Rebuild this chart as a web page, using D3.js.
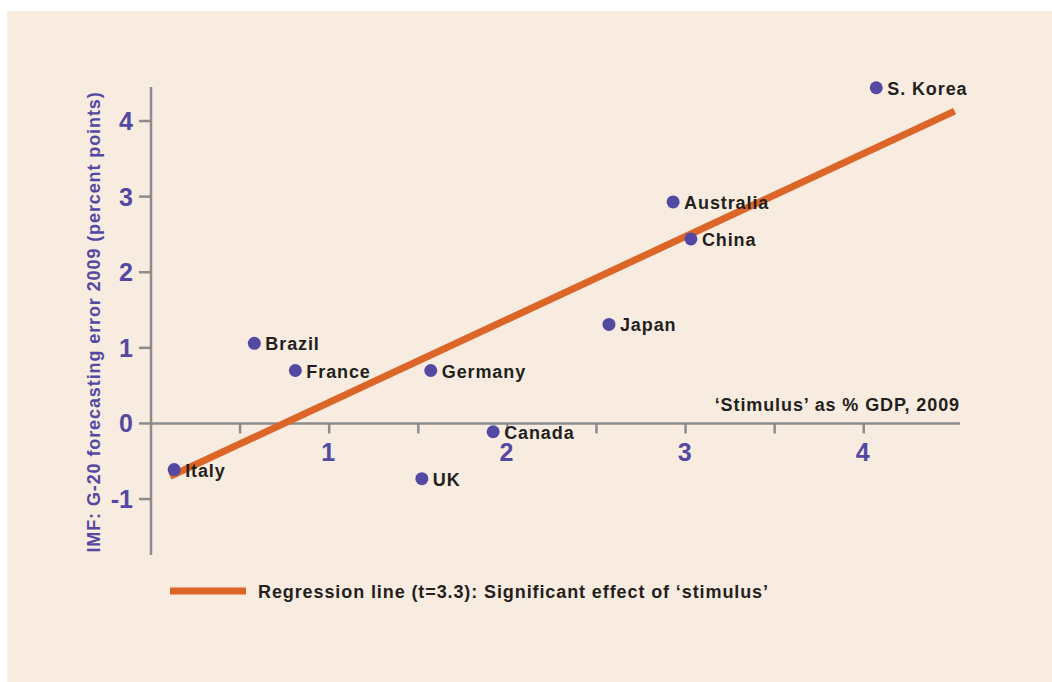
<!DOCTYPE html>
<html>
<head>
<meta charset="utf-8">
<script src="https://cdn.jsdelivr.net/npm/d3@7"></script>
<style>
  html,body{margin:0;padding:0;background:#fff;}
  text{font-family:"Liberation Sans",Arial,sans-serif;}
</style>
</head>
<body>
<div id="main"></div>
<script>
/* Define Size */
const width=1052,height=682;

/* Define Data */
const countries = ["Italy","Brazil","France","Germany","UK","Canada","Japan","Australia","China","S. Korea"];
const stimulus  = [0.13, 0.58, 0.81, 1.57, 1.52, 1.92, 2.57, 2.93, 3.03, 4.07];
const fcError   = [-0.61, 1.06, 0.70, 0.70, -0.73, -0.11, 1.31, 2.93, 2.44, 4.44];
const xTicks = [1,2,3,4];
const yTicks = [-1,0,1,2,3,4];
const regX = [0.107, 4.51];
const regY = [-0.70, 4.13];

const dataset = countries.map((c,i)=>({name:c,x:stimulus[i],y:fcError[i]}));

const purple="#5349a3", orange="#dc6528", grey="#8c8c8c", ink="#231f20";

/* Build svg */
const svg = d3.select("#main").append('svg').attr("width",width).attr("height",height);

svg.append('rect')
  .attr('x',7).attr('y',11)
  .attr('width',width-7).attr('height',height-11)
  .attr('fill','#f8ebdf');

/* Scales */
const x = d3.scaleLinear().domain([0,4.54]).range([151,960]);
const y = d3.scaleLinear().domain([-1.74,4.45]).range([555,87]);

/* Axes lines */
svg.append('line')
  .attr('x1',x(0)).attr('x2',x(0))
  .attr('y1',y(4.45)).attr('y2',y(-1.74))
  .attr('stroke',grey).attr('stroke-width',2.5);

svg.append('line')
  .attr('x1',x(0)).attr('x2',x(4.54))
  .attr('y1',y(0)).attr('y2',y(0))
  .attr('stroke',grey).attr('stroke-width',2.5);

// x ticks every 0.5
const xMinor = d3.range(0.5,4.5,0.5);
svg.selectAll('.xt').data(xMinor).enter().append('line')
  .attr('x1',d=>x(d)).attr('x2',d=>x(d))
  .attr('y1',y(0)).attr('y2',y(0)+10)
  .attr('stroke',grey).attr('stroke-width',2.5);

svg.selectAll('.xl').data(xTicks).enter().append('text')
  .attr('x',d=>x(d)-1).attr('y',y(0)+38)
  .attr('text-anchor','middle')
  .attr('font-size',25).attr('font-weight','bold')
  .attr('fill',purple)
  .text(d=>d);

// y ticks
svg.selectAll('.yt').data(yTicks).enter().append('line')
  .attr('x1',x(0)-12).attr('x2',x(0))
  .attr('y1',d=>y(d)).attr('y2',d=>y(d))
  .attr('stroke',grey).attr('stroke-width',2.5);

svg.selectAll('.yl').data(yTicks).enter().append('text')
  .attr('x',x(0)-18).attr('y',d=>y(d)+9)
  .attr('text-anchor','end')
  .attr('font-size',25).attr('font-weight','bold')
  .attr('fill',purple)
  .text(d=>d);

/* Axis titles */
svg.append('text')
  .attr('x',960).attr('y',411)
  .attr('text-anchor','end')
  .attr('font-size',18).attr('font-weight','bold')
  .attr('letter-spacing',0.9)
  .attr('fill',ink)
  .text("\u2018Stimulus\u2019 as % GDP, 2009");

svg.append('text')
  .attr('transform',`translate(100,322) rotate(-90)`)
  .attr('text-anchor','middle')
  .attr('font-size',18).attr('font-weight','bold')
  .attr('letter-spacing',0.9)
  .attr('fill',purple)
  .text("IMF: G-20 forecasting error 2009 (percent points)");

/* Regression line */
svg.append('line')
  .attr('x1',x(regX[0])).attr('y1',y(regY[0]))
  .attr('x2',x(regX[1])).attr('y2',y(regY[1]))
  .attr('stroke',orange).attr('stroke-width',7);

/* Points */
let pts = svg.selectAll('.pt').data(dataset).enter().append('g');

pts.append('circle')
  .attr('cx',d=>x(d.x)).attr('cy',d=>y(d.y))
  .attr('r',6.5)
  .attr('fill',purple);

pts.append('text')
  .attr('x',d=>x(d.x)+11).attr('y',d=>y(d.y)+7)
  .attr('font-size',18).attr('font-weight','bold')
  .attr('letter-spacing',0.9)
  .attr('fill',ink)
  .text(d=>d.name);

/* Legend */
svg.append('line')
  .attr('x1',170).attr('x2',246)
  .attr('y1',591).attr('y2',591)
  .attr('stroke',orange).attr('stroke-width',7);

svg.append('text')
  .attr('x',258).attr('y',598)
  .attr('font-size',18).attr('font-weight','bold')
  .attr('letter-spacing',0.9)
  .attr('fill',ink)
  .text("Regression line (t=3.3): Significant effect of \u2018stimulus\u2019");
</script>
</body>
</html>
